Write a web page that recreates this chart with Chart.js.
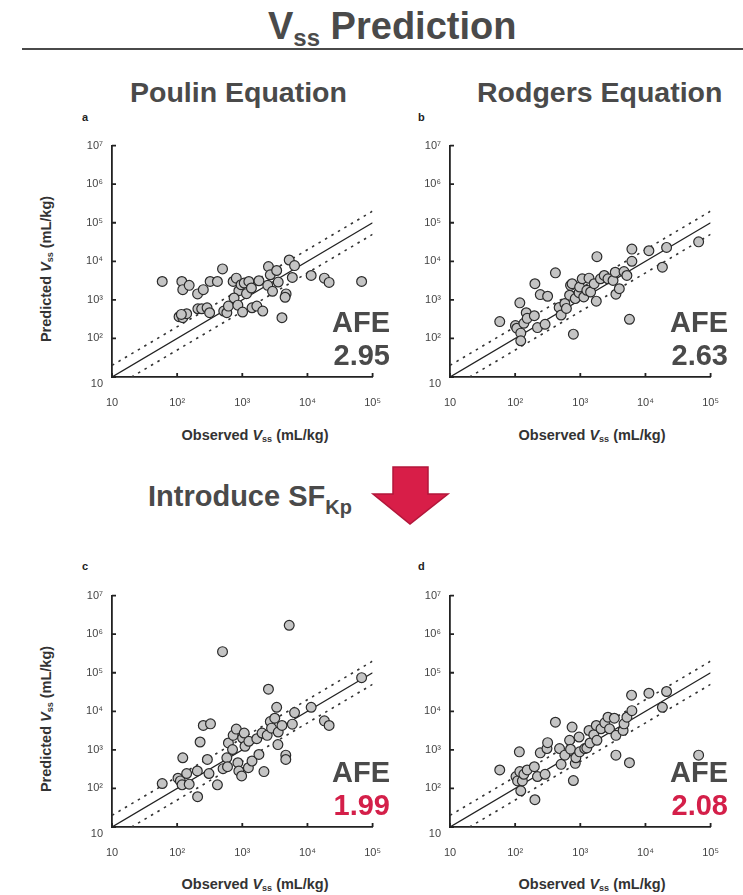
<!DOCTYPE html>
<html>
<head>
<meta charset="utf-8">
<script src="https://cdn.jsdelivr.net/npm/chart.js@4.4.0/dist/chart.umd.min.js"></script>
<style>
  body { margin: 0; background: #fff; font-family: "Liberation Sans", Arial, sans-serif; }
  #page { position: relative; width: 743px; height: 895px; overflow: hidden; }
  .abs { position: absolute; white-space: nowrap; }
  .head { font-weight: bold; color: #4a4a4a; }
  .letter { font-size: 11px; line-height: 11px; font-weight: bold; color: #222; }
  .afe { font-size: 29px; line-height: 29px; font-weight: bold; color: #4a4a4a; text-align: right; }
  .red { color: #d41f49; }
  .xtitle { width: 300px; text-align: center; font-size: 14.5px; line-height: 14px; font-weight: bold; color: #333; }
  .ytitle { width: 220px; text-align: center; font-size: 14.5px; line-height: 14px; font-weight: bold; color: #333; transform: rotate(-90deg); }
  .sub { font-size: 9px; position: relative; top: 2px; }
  .panel { position: absolute; width: 345px; height: 290px; }
</style>
</head>
<body>
<div id="page">
  <div class="abs head" style="left:268px; top:7px; font-size:38px; line-height:38px;">V<span style="font-size:24px; position:relative; top:7px;">ss</span> Prediction</div>
  <div class="abs" style="left:22px; top:48px; width:721px; height:2px; background:#4a4a4a;"></div>

  <div class="abs head" style="left:130px; top:78px; font-size:28.5px; line-height:28.5px;">Poulin Equation</div>
  <div class="abs head" style="left:477px; top:78px; font-size:28.5px; line-height:28.5px;">Rodgers Equation</div>

  <div class="abs letter" style="left:82px; top:112px;">a</div>
  <div class="abs letter" style="left:418px; top:112px;">b</div>
  <div class="abs letter" style="left:82px; top:561px;">c</div>
  <div class="abs letter" style="left:418px; top:561px;">d</div>

  <div class="abs head" style="left:148px; top:482px; font-size:29px; line-height:29px;">Introduce SF<span style="font-size:20px; position:relative; top:8px;">Kp</span></div>
  <svg class="abs" style="left:360px; top:460px;" width="100" height="75">
    <polygon points="33,7 68,7 68,34 88,34 50,64 13,34 33,34" fill="#d81e48" stroke="#b3163a" stroke-width="1.5"/>
  </svg>

  <div class="panel" style="left:55px; top:130px;"><canvas id="chartA" width="345" height="290"></canvas></div>
  <div class="panel" style="left:393px; top:130px;"><canvas id="chartB" width="345" height="290"></canvas></div>
  <div class="panel" style="left:55px; top:580px;"><canvas id="chartC" width="345" height="290"></canvas></div>
  <div class="panel" style="left:393px; top:580px;"><canvas id="chartD" width="345" height="290"></canvas></div>

  <div class="abs ytitle" style="left:-63px; top:261px;">Predicted <i>V</i><span class="sub">ss</span> (mL/kg)</div>
  <div class="abs ytitle" style="left:-63px; top:711px;">Predicted <i>V</i><span class="sub">ss</span> (mL/kg)</div>
  <div class="abs xtitle" style="left:105px; top:428px;">Observed <i>V</i><span class="sub">ss</span> (mL/kg)</div>
  <div class="abs xtitle" style="left:442px; top:428px;">Observed <i>V</i><span class="sub">ss</span> (mL/kg)</div>
  <div class="abs xtitle" style="left:105px; top:877px;">Observed <i>V</i><span class="sub">ss</span> (mL/kg)</div>
  <div class="abs xtitle" style="left:442px; top:877px;">Observed <i>V</i><span class="sub">ss</span> (mL/kg)</div>

  <div class="abs afe" style="right:353px; top:308px;">AFE</div>
  <div class="abs afe" style="right:353px; top:341px;" id="afeA"></div>
  <div class="abs afe" style="right:15px; top:308px;">AFE</div>
  <div class="abs afe" style="right:15px; top:341px;" id="afeB"></div>
  <div class="abs afe" style="right:353px; top:758px;">AFE</div>
  <div class="abs afe red" style="right:353px; top:791px;" id="afeC"></div>
  <div class="abs afe" style="right:15px; top:758px;">AFE</div>
  <div class="abs afe red" style="right:15px; top:791px;" id="afeD"></div>
</div>

<script>
// axes
const xTickValues = [10, 100, 1000, 10000, 100000];
const xTickLabels = ['10', '10²', '10³', '10⁴', '10⁵'];
const yTickValues = [10, 100, 1000, 10000, 100000, 1000000, 10000000];
const yTickLabels = [['', '10'], '10²', '10³', '10⁴', '10⁵', '10⁶', '10⁷'];

// reference lines (unity and 2-fold)
const unityX = [10, 100000];
const unityY = [10, 100000];
const upperX = [10, 100000];
const upperY = [20, 200000];
const lowerX = [20, 100000];
const lowerY = [10, 50000];

const afeValues = ['2.95', '2.63', '1.99', '2.08'];

// a: Poulin
const aObs = [59, 118, 122, 153, 206, 252, 321, 415, 497, 107, 122, 140, 116, 208, 238, 288, 315, 519, 579, 612,
  724, 809, 885, 748, 855, 1010, 957, 1070, 1260, 1160, 1380, 1410, 1670, 1800, 2060, 2460, 2520, 2690, 2910, 3370,
  3560, 4060, 4700, 4540, 5250, 6340, 5860, 11400, 18200, 21500, 67800];
const aPred = [3000, 3000, 1840, 2380, 1430, 1840, 3000, 3000, 6350, 366, 345, 437, 420, 587, 587, 624, 465, 512, 465, 689,
  3000, 3660, 1730, 1120, 730, 483, 2470, 2730, 3000, 1450, 2030, 624, 689, 3130, 512, 2380, 7290, 4470, 1670, 5770,
  2900, 345, 1430, 1170, 10800, 7740, 3810, 4290, 3660, 2840, 3000];

// b: Rodgers
const bObs = [58, 101, 106, 118, 122, 122, 136, 148, 153, 197, 201, 220, 243, 288, 315, 415, 474, 507, 579, 612,
  685, 708, 748, 783, 837, 957, 977, 1070, 1130, 1260, 1360, 1440, 1630, 1760, 1800, 2040, 2330, 2660, 3180, 3440,
  3520, 3970, 4690, 5190, 5680, 6190, 6190, 11300, 18200, 21100, 65500];
const bPred = [273, 215, 184, 837, 137, 87, 247, 464, 332, 389, 2620, 191, 1370, 233, 1240, 5020, 635, 405, 805, 600,
  1320, 2380, 2620, 129, 1080, 1540, 2150, 3520, 1190, 1770, 3660, 1600, 2620, 925, 13200, 3520, 4290, 3520, 3190, 5220,
  1400, 1950, 5430, 4290, 313, 10000, 20700, 18800, 7020, 22900, 31900];

// c: Poulin with SFKp
const cObs = [59, 103, 112, 119, 122, 140, 153, 204, 206, 225, 252, 291, 308, 325, 415, 497, 507, 579, 593, 612,
  708, 724, 809, 855, 885, 977, 1010, 1070, 1100, 1240, 1260, 1410, 1670, 1800, 2010, 2150, 2410, 2520, 2690, 2810,
  3150, 3370, 3560, 3520, 4060, 4650, 4650, 5250, 5860, 6340, 11400, 18200, 21500, 67800];
const cPred = [134, 184, 157, 124, 624, 243, 129, 284, 61, 1600, 4290, 565, 243, 4730, 124, 352000, 326, 624, 366, 1510,
  1020, 2380, 3450, 465, 284, 211, 2030, 2730, 1240, 345, 1670, 512, 1950, 759, 2730, 273, 2380, 37400, 5430, 3660,
  6620, 12700, 2900, 1370, 4290, 730, 565, 1700000, 4650, 9250, 12700, 5650, 4290, 74500];

// d: Rodgers with SFKp
const dObs = [58, 103, 109, 116, 118, 122, 129, 136, 153, 197, 201, 220, 243, 288, 308, 315, 415, 480, 507, 579,
  685, 708, 748, 783, 837, 855, 957, 977, 1170, 1260, 1360, 1410, 1610, 1760, 1800, 2080, 2380, 2660, 2810, 3330,
  3520, 3520, 4540, 4690, 5190, 5680, 6190, 6120, 11300, 18200, 21100, 65500];
const dPred = [301, 203, 157, 889, 273, 87, 157, 233, 301, 366, 51, 203, 837, 233, 1080, 1540, 5220, 1080, 421, 730,
  1770, 1040, 3890, 160, 447, 624, 2150, 889, 1080, 1120, 3190, 1510, 2470, 4290, 1770, 3520, 5020, 7020, 3520, 6620,
  730, 2380, 3190, 4730, 7020, 465, 10400, 26200, 29500, 12700, 32600, 730];

Chart.defaults.font.family = '"Liberation Sans", Arial, sans-serif';

// tick marks drawn inward from the axes
const innerTicks = {
  id: 'innerTicks',
  afterDraw(chart) {
    const ctx = chart.ctx, area = chart.chartArea;
    const xs = chart.scales.x, ys = chart.scales.y;
    ctx.save();
    ctx.strokeStyle = '#222';
    ctx.lineWidth = 1.8;
    ctx.beginPath();
    xs.ticks.forEach(t => {
      const px = xs.getPixelForValue(t.value);
      ctx.moveTo(px, area.bottom);
      ctx.lineTo(px, area.bottom - 4);
    });
    ys.ticks.forEach(t => {
      const py = ys.getPixelForValue(t.value);
      ctx.moveTo(area.left, py);
      ctx.lineTo(area.left + 4, py);
    });
    ctx.stroke();
    ctx.restore();
  }
};

function toPoints(xs, ys) {
  return xs.map((v, i) => ({ x: v, y: ys[i] }));
}

function makeChart(id, obs, pred) {
  return new Chart(document.getElementById(id), {
    type: 'scatter',
    data: {
      datasets: [
        {
          data: toPoints(obs, pred),
          pointRadius: 4.9,
          backgroundColor: '#c4c4c4',
          borderColor: '#2b2b2b',
          borderWidth: 1.2,
          order: 0
        },
        {
          data: toPoints(unityX, unityY),
          showLine: true,
          pointRadius: 0,
          borderColor: '#222',
          borderWidth: 1.3,
          order: 1
        },
        {
          data: toPoints(upperX, upperY),
          showLine: true,
          pointRadius: 0,
          borderColor: '#333',
          borderWidth: 1.6,
          borderDash: [2.5, 5],
          order: 1
        },
        {
          data: toPoints(lowerX, lowerY),
          showLine: true,
          pointRadius: 0,
          borderColor: '#333',
          borderWidth: 1.6,
          borderDash: [2.5, 5],
          order: 1
        }
      ]
    },
    options: {
      responsive: false,
      animation: false,
      devicePixelRatio: 1,
      layout: { padding: { top: 9, right: 12, left: 0, bottom: 0 } },
      plugins: { legend: { display: false }, tooltip: { enabled: false } },
      scales: {
        x: {
          type: 'logarithmic',
          min: 10,
          max: 100000,
          afterBuildTicks: s => { s.ticks = xTickValues.map(v => ({ value: v })); },
          afterFit: s => { s.height = 43; },
          grid: { display: false, drawTicks: false },
          border: { display: true, color: '#222', width: 1.8 },
          ticks: {
            padding: 19,
            color: '#444',
            font: { size: 11 },
            maxRotation: 0,
            autoSkip: false,
            callback: (v, i) => xTickLabels[i]
          }
        },
        y: {
          type: 'logarithmic',
          min: 10,
          max: 10000000,
          afterBuildTicks: s => { s.ticks = yTickValues.map(v => ({ value: v })); },
          afterFit: s => { s.width = 57; },
          grid: { display: false, drawTicks: false },
          border: { display: true, color: '#222', width: 1.8 },
          ticks: {
            padding: 9,
            color: '#444',
            font: { size: 11 },
            autoSkip: false,
            callback: (v, i) => yTickLabels[i]
          }
        }
      }
    },
    plugins: [innerTicks]
  });
}

makeChart('chartA', aObs, aPred);
makeChart('chartB', bObs, bPred);
makeChart('chartC', cObs, cPred);
makeChart('chartD', dObs, dPred);

document.getElementById('afeA').textContent = afeValues[0];
document.getElementById('afeB').textContent = afeValues[1];
document.getElementById('afeC').textContent = afeValues[2];
document.getElementById('afeD').textContent = afeValues[3];
</script>
</body>
</html>
